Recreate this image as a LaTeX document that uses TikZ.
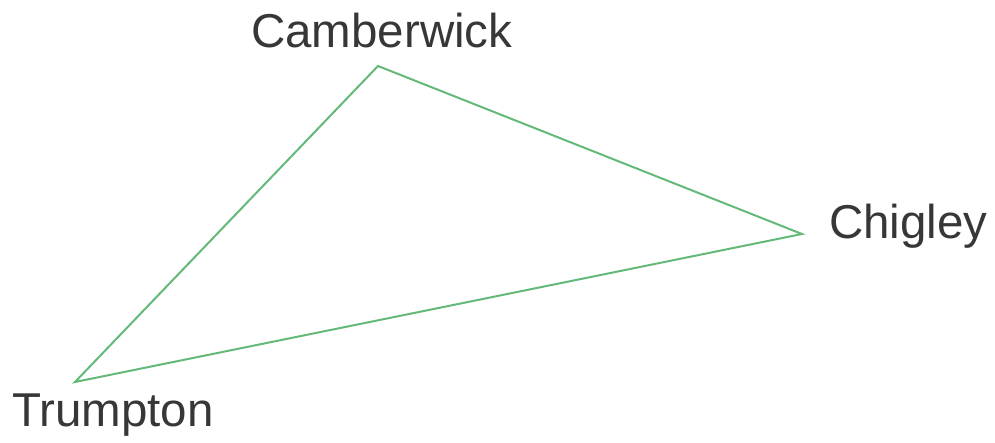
\documentclass[tikz,border=0pt]{standalone}
\usepackage{fontspec}
\setmainfont{Liberation Sans}
\definecolor{edgegreen}{RGB}{100,185,120}
\definecolor{labelgray}{RGB}{55,55,55}
\begin{document}
\begin{tikzpicture}[x=1pt,y=-1pt,
  lbl/.style={inner sep=0pt,anchor=base west,text=labelgray,font=\fontsize{47.5}{50}\selectfont},
  edge/.style={draw=edgegreen,line width=2pt,line join=miter}]
\useasboundingbox (0,0) rectangle (995,442);
\coordinate (c) at (378,66);
\coordinate (h) at (802,234);
\coordinate (t) at (75,382);
\node[lbl] (cl) at (251,47) {Camberwick};
\node[lbl] (hl) at (829,238) {Chigley};
\node[lbl] (tl) at (12,426) {Trumpton};
\draw[edge] (c) -- (h) -- (t) -- cycle;
\end{tikzpicture}
\end{document}
